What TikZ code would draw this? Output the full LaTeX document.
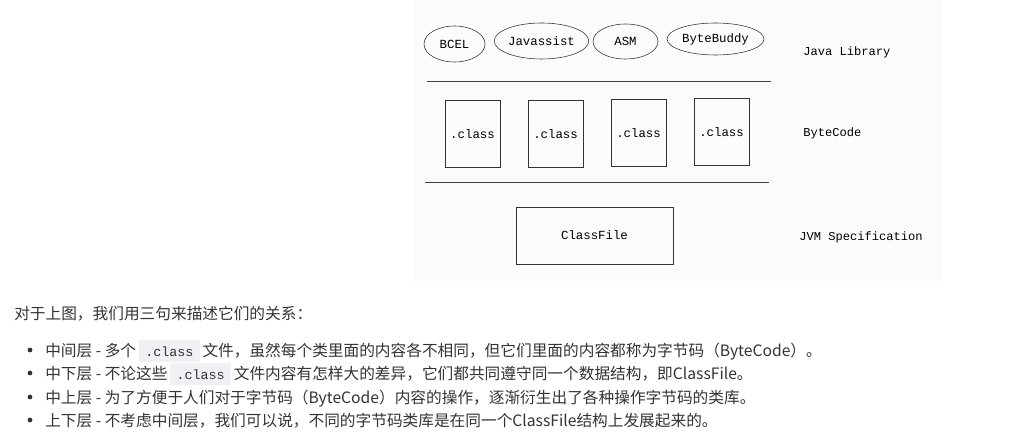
\documentclass[tikz,border=0pt]{standalone}
\usepackage{fontspec}
\usepackage{xcolor}
\usetikzlibrary{shapes,positioning}
\newfontfamily\monofont{Liberation Mono}
\newfontfamily\cjk{Noto Sans CJK SC}
\definecolor{txtgray}{HTML}{333333}
\definecolor{codebg}{HTML}{F0F0F5}
\definecolor{panel}{HTML}{FBFBFB}
\newcommand{\inlinecode}[1]{{\setlength{\fboxsep}{0pt}\colorbox{codebg}{\hspace{4.5pt}\rule[-4.5pt]{0pt}{16pt}{\monofont\fontsize{9.5}{11}\selectfont #1}\hspace{4.5pt}}}}

\begin{document}
\begin{tikzpicture}[x=0.025cm,y=-0.025cm,
    lib/.style = {draw=black!80, ellipse, inner sep=0pt, font=\monofont\fontsize{8.8}{10}\selectfont},
    cls/.style = {draw=black!80, rectangle, minimum width=1.375cm, minimum height=1.675cm, inner sep=0pt, font=\monofont\fontsize{8.8}{10}\selectfont},
    layer/.style = {anchor=west, inner sep=0pt, font=\monofont\fontsize{8.6}{10}\selectfont},
    sep/.style = {draw=black!75, line width=0.7pt},
    para/.style = {anchor=base west, inner sep=0pt, text=txtgray, font=\cjk\fontsize{11.15}{16}\selectfont},
    dot/.style = {circle, fill=txtgray, inner sep=0pt, minimum size=0.12cm}]
  \useasboundingbox (0,0) rectangle (1025,432);
  \fill[panel] (413,0) rectangle (942,281);

  % Java Library
  \node[lib, minimum width=1.525cm, minimum height=0.9cm] (bcel) at (454.5,44) {BCEL};
  \node[lib, minimum width=2.225cm, minimum height=0.9cm] (javassist) at (541.5,41) {Javassist};
  \node[lib, minimum width=1.625cm, minimum height=0.875cm] (asm) at (625.5,41.5) {ASM};
  \node[lib, minimum width=2.425cm, minimum height=0.8cm] (bytebuddy) at (715.5,39) {ByteBuddy};
  \node[layer] (javalib) at (803,52) {Java Library};
  \coordinate (s1l) at (427,81);
  \coordinate (s1r) at (771,81);
  \draw[sep] (s1l) -- (s1r);

  % ByteCode
  \node[cls] (c1) at (472.5,134) {.class};
  \node[cls, node distance=2.075cm] (c2) [right of=c1] {.class};
  \node[cls, node distance=2.075cm] (c3) [right of=c2, yshift=0.03cm] {.class};
  \node[cls, node distance=2.075cm] (c4) [right of=c3, yshift=0.03cm] {.class};
  \node[layer] (bytecode) at (803,133) {ByteCode};
  \coordinate (s2l) at (425,182);
  \coordinate (s2r) at (769,182);
  \draw[sep] (s2l) -- (s2r);

  % JVM Specification
  \node[cls, minimum width=3.925cm, minimum height=1.425cm] (classfile) at (594.5,235.5) {ClassFile};
  \node[layer] (jvmspec) at (799,237) {JVM Specification};

  % text below
  \node[para] (intro) at (14,319) {对于上图，我们用三句来描述它们的关系：};
  \node[dot] (b1) at (30,350) {};
  \node[dot] (b2) at (30,373) {};
  \node[dot] (b3) at (30,397) {};
  \node[dot] (b4) at (30,420) {};
  \node[para] (l1) at (45,356) {中间层 - 多个\hspace{2pt}\inlinecode{.class}\hspace{2pt}文件，虽然每个类里面的内容各不相同，但它们里面的内容都称为字节码（ByteCode）。};
  \node[para] (l2) at (45,379) {中下层 - 不论这些\hspace{2pt}\inlinecode{.class}\hspace{2pt}文件内容有怎样大的差异，它们都共同遵守同一个数据结构，即ClassFile。};
  \node[para] (l3) at (45,403) {中上层 - 为了方便于人们对于字节码（ByteCode）内容的操作，逐渐衍生出了各种操作字节码的类库。};
  \node[para] (l4) at (45,426) {上下层 - 不考虑中间层，我们可以说，不同的字节码类库是在同一个ClassFile结构上发展起来的。};
\end{tikzpicture}
\end{document}
